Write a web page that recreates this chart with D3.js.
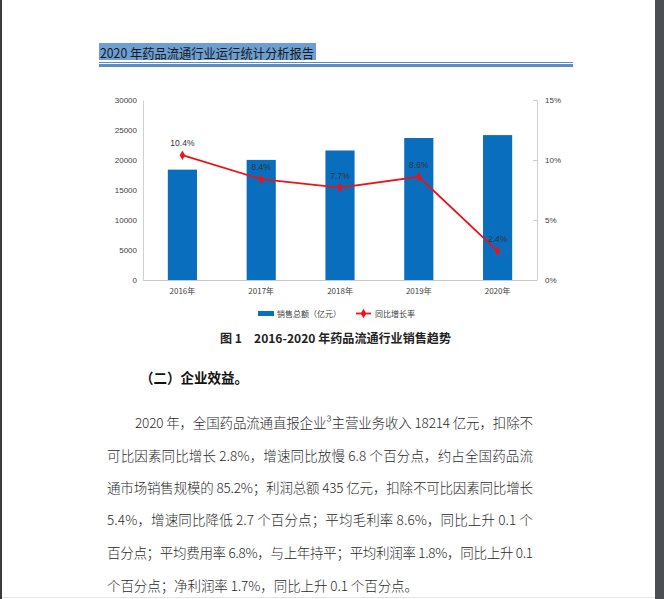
<!DOCTYPE html>
<html>
<head>
<meta charset="utf-8">
<script src="https://cdn.jsdelivr.net/npm/d3@7"></script>
<style>
  html, body { margin: 0; padding: 0; background: #fff; }
  svg { display: block; }
</style>
</head>
<body>
<svg id="page" width="664" height="599"></svg>
<script>
// chart data
const years = ["2016年", "2017年", "2018年", "2019年", "2020年"];
const sales = [18393, 20016, 21586, 23667, 24149];
const growth = [10.4, 8.4, 7.7, 8.6, 2.4];
const leftTicks = [0, 5000, 10000, 15000, 20000, 25000, 30000];
const rightTicks = [0, 5, 10, 15];

const bodyLines = [
  "2020 年，全国药品流通直报企业³主营业务收入 18214 亿元，扣除不",
  "可比因素同比增长 2.8%，增速同比放慢 6.8 个百分点，约占全国药品流",
  "通市场销售规模的 85.2%；利润总额 435 亿元，扣除不可比因素同比增长",
  "5.4%，增速同比降低 2.7 个百分点；平均毛利率 8.6%，同比上升 0.1 个",
  "百分点；平均费用率 6.8%，与上年持平；平均利润率 1.8%，同比上升 0.1",
  "个百分点；净利润率 1.7%，同比上升 0.1 个百分点。"
];

const svg = d3.select("#page");
const cjk = "'Noto Sans CJK SC', 'Noto Sans', sans-serif";

// page frame (viewer chrome)
svg.append("rect").attr("x", 0).attr("y", 0).attr("width", 664).attr("height", 599).attr("fill", "#fff");
svg.append("rect").attr("x", 0).attr("y", 0).attr("width", 2).attr("height", 599).attr("fill", "#3c3c3c");
svg.append("rect").attr("x", 655).attr("y", 0).attr("width", 9).attr("height", 599).attr("fill", "#4b4e52");
svg.append("line").attr("x1", 2).attr("x2", 655).attr("y1", 597.5).attr("y2", 597.5).attr("stroke", "#e4e4e4");

// header
svg.append("rect").attr("x", 99).attr("y", 43).attr("width", 217).attr("height", 17).attr("fill", "#6c9fd3");
svg.append("text").attr("x", 100).attr("y", 52).attr("dominant-baseline", "central")
  .attr("font-family", cjk).attr("font-size", 13).attr("fill", "#1a1a1a")
  .attr("textLength", 214).attr("lengthAdjust", "spacingAndGlyphs")
  .text("2020 年药品流通行业运行统计分析报告");
svg.append("rect").attr("x", 99).attr("y", 62).attr("width", 474).attr("height", 1).attr("fill", "#5b8cc4");
svg.append("rect").attr("x", 99).attr("y", 64).attr("width", 474).attr("height", 3).attr("fill", "#5b8cc4");

// chart
const x0 = 143, x1 = 537, yTop = 100, yBot = 280;
const x = d3.scaleBand().domain(years).range([x0, x1]).paddingInner(0.63).paddingOuter(0.315);
const yL = d3.scaleLinear().domain([0, 30000]).range([yBot, yTop]);
const yR = d3.scaleLinear().domain([0, 15]).range([yBot, yTop]);

const g = svg.append("g");

g.selectAll(".bar")
  .data(sales)
  .enter()
  .append("rect")
  .attr("class", "bar")
  .attr("x", (d, i) => x(years[i]))
  .attr("width", x.bandwidth())
  .attr("y", (d) => yL(d))
  .attr("height", (d) => yBot - yL(d))
  .attr("fill", "#0a6ebf");

// left axis
const axL = g.append("g").attr("transform", "translate(" + x0 + ",0)")
  .call(d3.axisLeft(yL).tickValues(leftTicks).tickSize(0).tickPadding(6).tickFormat(d3.format("d")));
axL.select(".domain").attr("stroke", "#d0d0d0");
axL.selectAll("text").attr("font-family", "'Liberation Sans', sans-serif").attr("font-size", 8).attr("fill", "#404040");

// right axis
const axR = g.append("g").attr("transform", "translate(" + x1 + ",0)")
  .call(d3.axisRight(yR).tickValues(rightTicks).tickSize(0).tickPadding(8).tickFormat((d) => d + "%"));
axR.select(".domain").attr("stroke", "#d0d0d0");
axR.selectAll(".tick line").attr("x1", -4).attr("x2", 0).attr("stroke", "#c8c8c8");
axR.selectAll("text").attr("font-family", "'Liberation Sans', sans-serif").attr("font-size", 8).attr("fill", "#404040");

// bottom axis
const axB = g.append("g").attr("transform", "translate(0," + yBot + ")")
  .call(d3.axisBottom(x).tickSize(0).tickPadding(8));
axB.select(".domain").attr("stroke", "#c8c8c8").attr("d", "M" + x0 + ",0.5H" + x1);
axB.selectAll("text").attr("font-family", cjk).attr("font-size", 8).attr("fill", "#404040");

// growth line
const cx = (i) => x(years[i]) + x.bandwidth() / 2;
const line = d3.line().x((d, i) => cx(i)).y((d) => yR(d));
g.append("path").datum(growth).attr("d", line).attr("fill", "none")
  .attr("stroke", "#e8141c").attr("stroke-width", 1.8);

const diamond = d3.symbol().type(d3.symbolDiamond).size(26);
g.selectAll(".pt")
  .data(growth)
  .enter()
  .append("path")
  .attr("class", "pt")
  .attr("d", diamond)
  .attr("transform", (d, i) => "translate(" + cx(i) + "," + yR(d) + ")")
  .attr("fill", "#e8141c");

g.selectAll(".lbl")
  .data(growth)
  .enter()
  .append("text")
  .attr("class", "lbl")
  .attr("x", (d, i) => cx(i))
  .attr("y", (d) => yR(d) - 12)
  .attr("text-anchor", "middle")
  .attr("dominant-baseline", "central")
  .attr("font-family", "'Liberation Sans', sans-serif")
  .attr("font-size", 8.5)
  .attr("fill", "#333")
  .text((d) => d.toFixed(1) + "%");

// legend
const lg = svg.append("g");
lg.append("rect").attr("x", 258).attr("y", 311).attr("width", 16).attr("height", 5).attr("fill", "#0a6ebf");
lg.append("text").attr("x", 277).attr("y", 313.5).attr("dominant-baseline", "central")
  .attr("font-family", cjk).attr("font-size", 8).attr("fill", "#404040").text("销售总额（亿元）");
lg.append("line").attr("x1", 356).attr("x2", 371).attr("y1", 313.5).attr("y2", 313.5)
  .attr("stroke", "#e8141c").attr("stroke-width", 1.8);
lg.append("path").attr("d", diamond).attr("transform", "translate(363.5,313.5)").attr("fill", "#e8141c");
lg.append("text").attr("x", 375).attr("y", 313.5).attr("dominant-baseline", "central")
  .attr("font-family", cjk).attr("font-size", 8).attr("fill", "#404040").text("同比增长率");

// caption
svg.append("text").attr("x", 220).attr("y", 337).attr("dominant-baseline", "central")
  .attr("font-family", cjk).attr("font-size", 12).attr("font-weight", "bold").attr("fill", "#222")
  .attr("textLength", 231).attr("lengthAdjust", "spacingAndGlyphs")
  .text("图 1　2016-2020 年药品流通行业销售趋势");

// section heading
svg.append("text").attr("x", 140).attr("y", 377).attr("dominant-baseline", "central")
  .attr("font-family", cjk).attr("font-size", 14).attr("font-weight", "bold").attr("fill", "#111")
  .attr("textLength", 108).attr("lengthAdjust", "spacingAndGlyphs")
  .text("（二）企业效益。");

// body paragraph
const lineY = [422, 455, 487, 519, 552, 585];
const lineX = [135, 107, 107, 107, 107, 107];
const lineEnd = [533, 533, 533, 533, 533, 418];
svg.selectAll(".body")
  .data(bodyLines)
  .enter()
  .append("text")
  .attr("class", "body")
  .attr("x", (d, i) => lineX[i])
  .attr("y", (d, i) => lineY[i])
  .attr("dominant-baseline", "central")
  .attr("font-family", cjk)
  .attr("font-size", 13.5)
  .attr("font-weight", 300)
  .attr("fill", "#2a2a2a")
  .attr("textLength", (d, i) => lineEnd[i] - lineX[i])
  .attr("lengthAdjust", "spacing")
  .text((d) => d);
</script>
</body>
</html>
